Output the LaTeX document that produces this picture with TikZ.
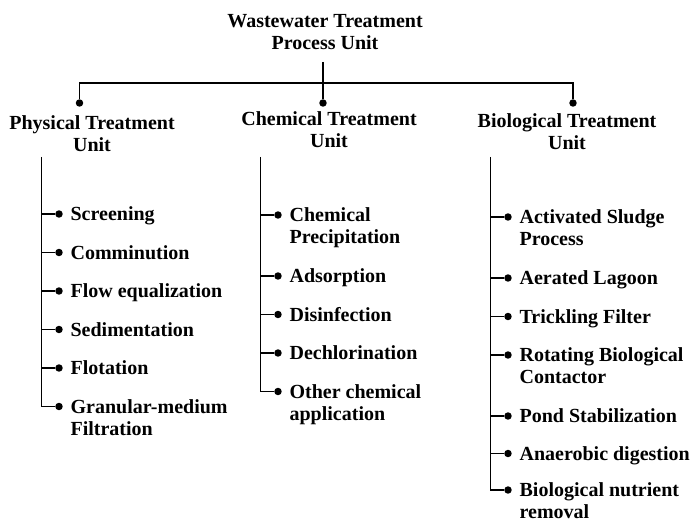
\documentclass[tikz,border=0pt]{standalone}
\usepackage{fontspec}
\setmainfont{Liberation Serif}
\usepackage{tikz}
\usetikzlibrary{positioning}

\begin{document}
\begin{tikzpicture}[x=0.75pt, y=-0.75pt, line width=0.9pt,
  every node/.style={font=\bfseries\fontsize{15}{16.5}\selectfont, inner sep=0pt},
  heading/.style={align=center},
  itemtext/.style={align=left, anchor=base west},
  bullet/.style={circle, fill=black, minimum size=5.6pt}]

\useasboundingbox (0,0) rectangle (691,520);

% Top unit
\node[heading] at (325,32) (title) {Wastewater Treatment\\Process Unit};
\coordinate (stem) at (323,62);
\coordinate (joint) at (323,83);

% Unit dots and headings
\node[bullet] at (79.5,103) (phys_dot) {};
\node[bullet] at (323,103) (chem_dot) {};
\node[bullet] at (573,103) (bio_dot) {};

\node[heading] at (92,134) (phys) {Physical Treatment\\Unit};
\node[heading] at (329,129.5) (chem) {Chemical Treatment\\Unit};
\node[heading] at (567,132) (bio) {Biological Treatment\\Unit};

% Physical items (two-line texts sit on their last baseline)
\coordinate (phys_top) at (41.5,157);
\node[bullet] at (59,214) (p1) {};
\node[bullet] at (59,252.5) (p2) {};
\node[bullet] at (59,291) (p3) {};
\node[bullet] at (59,329.5) (p4) {};
\node[bullet] at (59,368) (p5) {};
\node[bullet] at (59,406.5) (p6) {};
\node[itemtext] at (70,220.5) (p1_txt) {Screening};
\node[itemtext] at (70,259) (p2_txt) {Comminution};
\node[itemtext] at (70,297.5) (p3_txt) {Flow equalization};
\node[itemtext] at (70,336) (p4_txt) {Sedimentation};
\node[itemtext] at (70,374.5) (p5_txt) {Flotation};
\node[itemtext] at (70,435) (p6_txt) {Granular-medium\\Filtration};

% Chemical items
\coordinate (chem_top) at (260.5,157);
\node[bullet] at (278,215) (c1) {};
\node[bullet] at (278,276) (c2) {};
\node[bullet] at (278,314.5) (c3) {};
\node[bullet] at (278,353) (c4) {};
\node[bullet] at (278,391.5) (c5) {};
\node[itemtext] at (289,243.5) (c1_txt) {Chemical\\Precipitation};
\node[itemtext] at (289,282.5) (c2_txt) {Adsorption};
\node[itemtext] at (289,321) (c3_txt) {Disinfection};
\node[itemtext] at (289,359.5) (c4_txt) {Dechlorination};
\node[itemtext] at (289,420) (c5_txt) {Other chemical\\application};

% Biological items
\coordinate (bio_top) at (490.5,157);
\node[bullet] at (508,217) (b1) {};
\node[bullet] at (508,278) (b2) {};
\node[bullet] at (508,316.5) (b3) {};
\node[bullet] at (508,355) (b4) {};
\node[bullet] at (508,416) (b5) {};
\node[bullet] at (508,453.5) (b6) {};
\node[bullet] at (508,490) (b7) {};
\node[itemtext] at (519,245.5) (b1_txt) {Activated Sludge\\Process};
\node[itemtext] at (519,284.5) (b2_txt) {Aerated Lagoon};
\node[itemtext] at (519,323) (b3_txt) {Trickling Filter};
\node[itemtext] at (519,383.5) (b4_txt) {Rotating Biological\\Contactor};
\node[itemtext] at (519,422.5) (b5_txt) {Pond Stabilization};
\node[itemtext] at (519,460) (b6_txt) {Anaerobic digestion};
\node[itemtext] at (519,518.5) (b7_txt) {Biological nutrient\\removal};

% Tree lines
\draw (stem) -- (chem_dot);
\draw (phys_dot) |- (joint) -| (bio_dot);

\draw (phys_top) |- (p6);
\foreach \n in {p1,p2,p3,p4,p5}
  \draw (phys_top |- \n) -- (\n);

\draw (chem_top) |- (c5);
\foreach \n in {c1,c2,c3,c4}
  \draw (chem_top |- \n) -- (\n);

\draw (bio_top) |- (b7);
\foreach \n in {b1,b2,b3,b4,b5,b6}
  \draw (bio_top |- \n) -- (\n);

\end{tikzpicture}
\end{document}
